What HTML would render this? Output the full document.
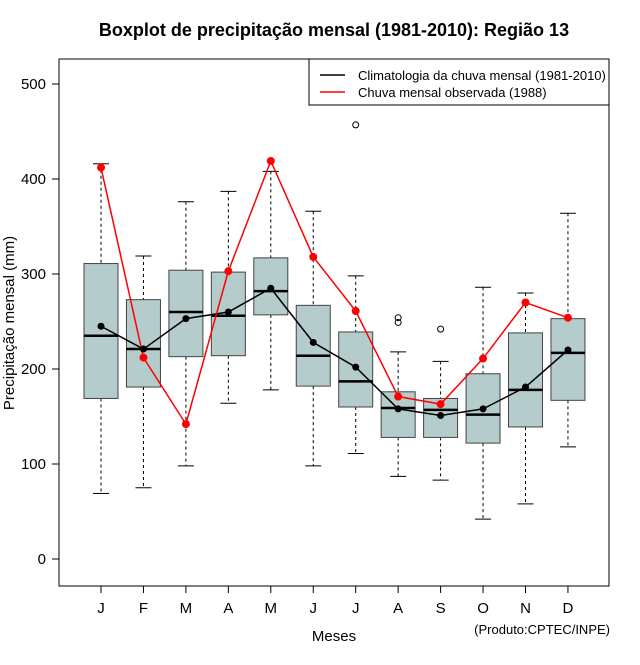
<!DOCTYPE html>
<html><head><meta charset="utf-8"><style>
body{margin:0;background:#fff;font-family:"Liberation Sans",sans-serif}
svg text{font-family:"Liberation Sans",sans-serif}
</style></head><body>
<svg id="c" width="640" height="660" xmlns="http://www.w3.org/2000/svg">
<text x="334" y="36" text-anchor="middle" font-size="18" font-weight="bold">Boxplot de precipitação mensal (1981-2010): Região 13</text>
<rect x="59" y="59" width="550" height="527" fill="none" stroke="#000"/>
<text transform="translate(14,323) rotate(-90)" text-anchor="middle" font-size="15">Precipitação mensal (mm)</text>
<text x="334" y="641" text-anchor="middle" font-size="15">Meses</text>
<text x="610" y="634" text-anchor="end" font-size="13">(Produto:CPTEC/INPE)</text>
<g id="g"></g>
<g>
<rect x="309" y="59" width="300" height="46" fill="#fff" stroke="#000"/>
<line x1="320" y1="75" x2="345" y2="75" stroke="#000" stroke-width="1.5"/>
<text x="358" y="80" font-size="13">Climatologia da chuva mensal (1981-2010)</text>
<line x1="320" y1="92" x2="345" y2="92" stroke="#f00" stroke-width="1.5"/>
<text x="358" y="97" font-size="13">Chuva mensal observada (1988)</text>
</g>
</svg>
<script>
const months=["J","F","M","A","M","J","J","A","S","O","N","D"];
const whiskLo=[69,75,98,164,178,98,111,87,83,42,58,118];
const q1=[169,181,213,214,257,182,160,128,128,122,139,167];
const med=[235,221,260,256,282,214,187,159,157,152,178,217];
const q3=[311,273,304,302,317,267,239,176,169,195,238,253];
const whiskHi=[416,319,376,387,408,366,298,218,208,286,280,364];
const outMonth=[6,7,7,8];
const outVal=[457,254,249,242];
const climMean=[245,221,253,260,285,228,202,158,151,158,181,220];
const obs1988=[412,212,142,303,419,318,261,171,163,211,270,254];
const yTicks=[0,100,200,300,400,500];
const NS="http://www.w3.org/2000/svg";
const g=document.getElementById('g');
const X=i=>101+i*42.45;
const Y=v=>559-v*0.95;
function mk(t,a){const e=document.createElementNS(NS,t);for(const k in a)e.setAttribute(k,a[k]);g.appendChild(e);return e;}
mk('line',{x1:59,y1:Y(0),x2:59,y2:Y(500),stroke:'#000'});
yTicks.forEach(v=>{
 const l=mk('line',{x1:52,y1:Y(v),x2:59,y2:Y(v),stroke:'#000'});
 
 
 const t=mk('text',{x:46,y:Y(v)+5,'text-anchor':'end','font-size':15});t.textContent=v;
 
 
});
months.forEach((m,i)=>{
 const x=X(i);
 mk('line',{x1:x,y1:586,x2:x,y2:593,stroke:'#000'});
 const t=mk('text',{x:x,y:613,'text-anchor':'middle','font-size':15});t.textContent=m;
 
 
 mk('line',{x1:x,y1:Y(whiskHi[i]),x2:x,y2:Y(q3[i]),stroke:'#000','stroke-dasharray':'3,3'});
 mk('line',{x1:x,y1:Y(q1[i]),x2:x,y2:Y(whiskLo[i]),stroke:'#000','stroke-dasharray':'3,3'});
 mk('line',{x1:x-8,y1:Y(whiskHi[i]),x2:x+8,y2:Y(whiskHi[i]),stroke:'#000'});
 mk('line',{x1:x-8,y1:Y(whiskLo[i]),x2:x+8,y2:Y(whiskLo[i]),stroke:'#000'});
 const b=mk('rect',{x:x-17,y:Y(q3[i]),width:34,height:Y(q1[i])-Y(q3[i]),fill:'#b4cccb',stroke:'#444'});
 
 
 mk('line',{x1:x-17,y1:Y(med[i]),x2:x+17,y2:Y(med[i]),stroke:'#000','stroke-width':2.5});
});
outMonth.forEach((mi,k)=>{
 const o=mk('circle',{cx:X(mi),cy:Y(outVal[k]),r:3,fill:'none',stroke:'#000'});
 
 
});
const pc=climMean.map((v,i)=>X(i)+','+Y(v)).join(' ');
const lc=mk('polyline',{points:pc,fill:'none',stroke:'#000','stroke-width':1.5});


const po=obs1988.map((v,i)=>X(i)+','+Y(v)).join(' ');
const lo=mk('polyline',{points:po,fill:'none',stroke:'#f00','stroke-width':1.5});


climMean.forEach((v,i)=>{const p=mk('circle',{cx:X(i),cy:Y(v),r:3.5,fill:'#000'});
 
 });
obs1988.forEach((v,i)=>{const p=mk('circle',{cx:X(i),cy:Y(v),r:4,fill:'#f00'});
 
 });
</script>
</body></html>
